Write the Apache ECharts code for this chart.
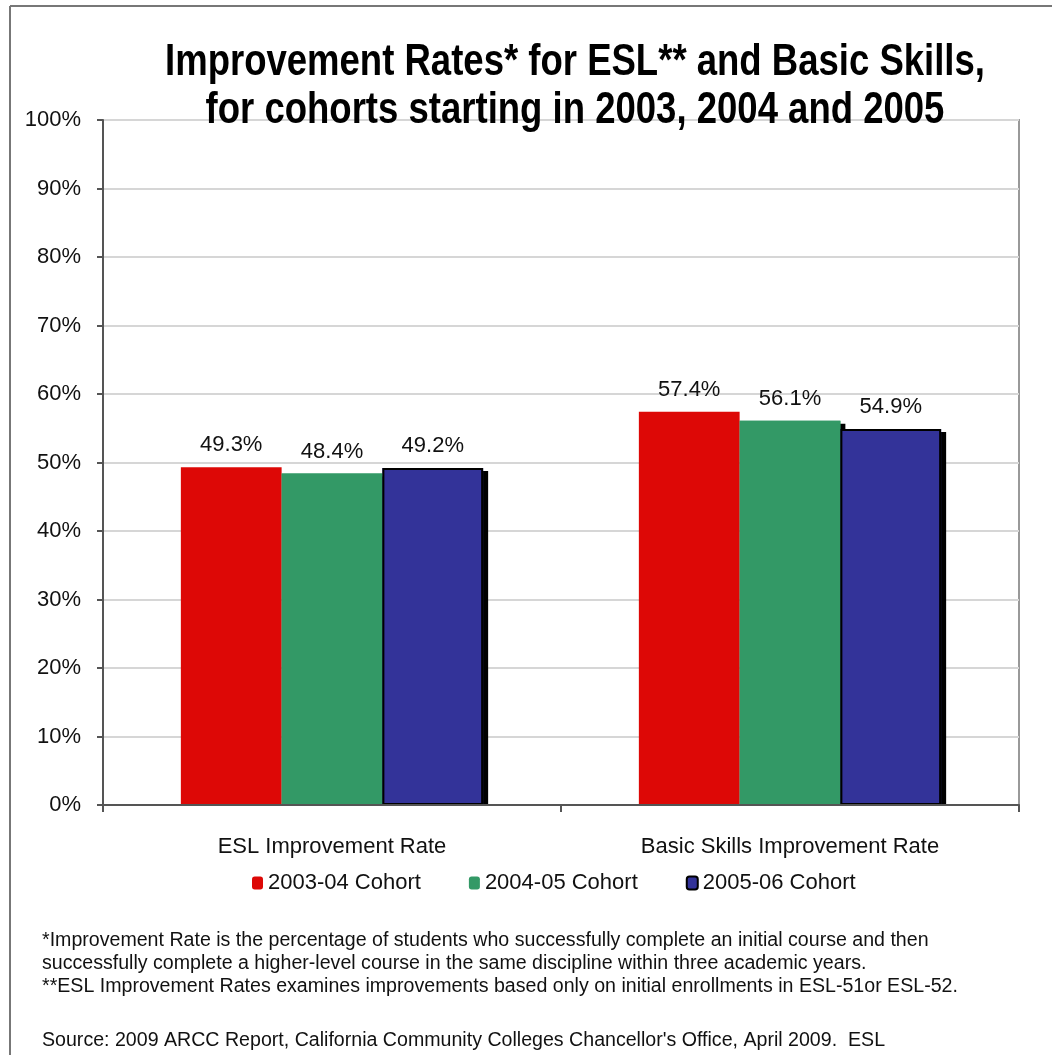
<!DOCTYPE html>
<html>
<head>
<meta charset="utf-8">
<script src="https://cdn.jsdelivr.net/npm/echarts@6/dist/echarts.min.js"></script>
<style>
  html, body { margin: 0; padding: 0; background: #fff; }
  #chart { width: 1052px; height: 1055px; }
</style>
</head>
<body>
<div id="chart"></div>
<script>
// Improvement rates by discipline, one series per entering cohort
const categories = ['ESL Improvement Rate', 'Basic Skills Improvement Rate'];
const cohort2003 = [49.3, 57.4];
const cohort2004 = [48.4, 56.1];
const cohort2005 = [49.2, 54.9];
const seriesNames = ['2003-04 Cohort', '2004-05 Cohort', '2005-06 Cohort'];
const yTicks = { min: 0, max: 100, interval: 10 };

const titleLines = [
  'Improvement Rates* for ESL** and Basic Skills,',
  'for cohorts starting in 2003, 2004 and 2005'
];
const noteLines = [
  '*Improvement Rate is the percentage of students who successfully complete an initial course and then',
  'successfully complete a higher-level course in the same discipline within three academic years.',
  '**ESL Improvement Rates examines improvements based only on initial enrollments in ESL-51or ESL-52.'
];
const sourceLine = "Source: 2009 ARCC Report, California Community Colleges Chancellor's Office, April 2009.  ESL";

const FONT = '"Liberation Sans", Arial, sans-serif';
const colors = ['#dd0806', '#339966', '#333399'];
const valuesBySeries = [cohort2003, cohort2004, cohort2005];
const hasShadow = [false, true, true];

const valueLabel = {
  show: true,
  position: 'top',
  distance: 11,
  color: '#111',
  fontFamily: FONT,
  fontSize: 22,
  formatter: p => p.value.toFixed(1) + '%'
};

const barLayout = { barGap: '0%', barCategoryGap: '34%' };

// front bars (visible fills, the last cohort outlined in black)
const frontSeries = valuesBySeries.map((data, i) => Object.assign({
  name: seriesNames[i],
  type: 'bar',
  xAxisIndex: 0,
  z: 3,
  data: data,
  label: valueLabel,
  itemStyle: {
    color: colors[i],
    borderColor: i === 2 ? '#000' : colors[i],
    borderWidth: i === 2 ? 2 : 0
  },
  emphasis: { disabled: true }
}, barLayout));

// identical bars on a hidden twin axis, drawn underneath to cast the drop shadow
const shadowSeries = valuesBySeries.map((data, i) => Object.assign({
  name: seriesNames[i] + ' shade',
  type: 'bar',
  xAxisIndex: 1,
  z: 1,
  silent: true,
  data: data,
  itemStyle: hasShadow[i] ? {
    color: colors[i],
    shadowColor: '#000',
    shadowBlur: 0,
    shadowOffsetX: 5,
    shadowOffsetY: 3
  } : { color: 'transparent' },
  emphasis: { disabled: true }
}, barLayout));

const chart = echarts.init(document.getElementById('chart'), null, { renderer: 'canvas' });

chart.setOption({
  animation: false,
  backgroundColor: '#fff',
  textStyle: { fontFamily: FONT },
  grid: {
    left: 103, right: 33, top: 120, bottom: 250,
    show: true, borderColor: '#999', borderWidth: 2, backgroundColor: 'transparent'
  },
  legend: {
    data: seriesNames,
    left: 247,
    top: 867,
    itemWidth: 11,
    itemHeight: 13,
    itemGap: 48,
    textStyle: { fontFamily: FONT, fontSize: 22, color: '#111' },
    itemStyle: { shadowColor: 'transparent', shadowOffsetX: 0, shadowOffsetY: 0 }
  },
  xAxis: [{
    type: 'category',
    data: categories,
    z: 6,
    axisLine: { lineStyle: { color: '#555', width: 2 } },
    axisTick: { show: true, length: 7, lineStyle: { color: '#555', width: 2 } },
    axisLabel: { margin: 31, color: '#111', fontFamily: FONT, fontSize: 22 }
  }, {
    type: 'category',
    data: categories,
    show: false
  }],
  yAxis: {
    type: 'value',
    min: yTicks.min,
    max: yTicks.max,
    interval: yTicks.interval,
    axisLine: { show: true, lineStyle: { color: '#555', width: 2 } },
    axisTick: { show: true, length: 6, lineStyle: { color: '#555', width: 2 } },
    axisLabel: { margin: 22, color: '#111', fontFamily: FONT, fontSize: 22, formatter: '{value}%' },
    splitLine: { lineStyle: { color: '#d6d6d6', width: 2 } }
  },
  series: shadowSeries.concat(frontSeries),
  graphic: [
    // outer frame: top and left edges
    { type: 'line', silent: true, shape: { x1: 10, y1: 6, x2: 1052, y2: 6 }, style: { stroke: '#777', lineWidth: 2 } },
    { type: 'line', silent: true, shape: { x1: 10, y1: 6, x2: 10, y2: 1055 }, style: { stroke: '#777', lineWidth: 2 } },
    // keeps the drop shadow from spilling under the baseline
    { type: 'rect', silent: true, z: 5, shape: { x: 104, y: 806, width: 930, height: 8 }, style: { fill: '#fff' } },
    {
      type: 'text', silent: true, z: 100,
      x: 575, y: 39, scaleX: 0.83,
      style: {
        text: titleLines.join('\n'), x: 0, y: 0,
        textAlign: 'center', textVerticalAlign: 'top',
        font: 'bold 44px ' + FONT, lineHeight: 48, fill: '#000'
      }
    },
    {
      type: 'text', silent: true,
      style: {
        text: noteLines.join('\n'), x: 42, y: 929,
        textAlign: 'left', textVerticalAlign: 'top',
        font: '19.6px ' + FONT, lineHeight: 23, fill: '#111'
      }
    },
    {
      type: 'text', silent: true,
      style: {
        text: sourceLine, x: 42, y: 1029,
        textAlign: 'left', textVerticalAlign: 'top',
        font: '19.6px ' + FONT, lineHeight: 23, fill: '#111'
      }
    }
  ]
});
</script>
</body>
</html>
